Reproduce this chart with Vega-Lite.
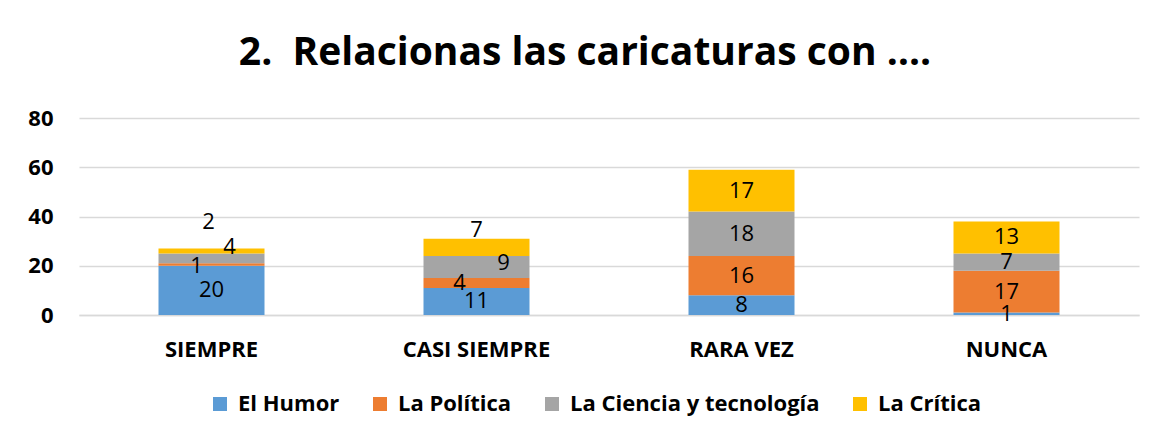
{
  "$schema": "https://vega.github.io/schema/vega-lite/v6.json",
  "width": 1060,
  "height": 197,
  "autosize": {"type": "none"},
  "padding": {"left": 79, "top": 118, "right": 28, "bottom": 127},
  "background": "white",
  "title": {
    "text": "2.\u00a0 Relacionas las caricaturas con ….",
    "font": "Open Sans",
    "fontSize": 39,
    "fontWeight": "bold",
    "color": "#000000",
    "anchor": "middle",
    "frame": "group",
    "baseline": "alphabetic",
    "dx": -24,
    "offset": 3
  },
  "data": {
    "values": [
      {"cat": "SIEMPRE", "series": "El Humor", "k": 1, "value": 20},
      {"cat": "SIEMPRE", "series": "La Política", "k": 2, "value": 1},
      {"cat": "SIEMPRE", "series": "La Ciencia y tecnología", "k": 3, "value": 4},
      {"cat": "SIEMPRE", "series": "La Crítica", "k": 4, "value": 2},
      {"cat": "CASI SIEMPRE", "series": "El Humor", "k": 1, "value": 11},
      {"cat": "CASI SIEMPRE", "series": "La Política", "k": 2, "value": 4},
      {"cat": "CASI SIEMPRE", "series": "La Ciencia y tecnología", "k": 3, "value": 9},
      {"cat": "CASI SIEMPRE", "series": "La Crítica", "k": 4, "value": 7},
      {"cat": "RARA VEZ", "series": "El Humor", "k": 1, "value": 8},
      {"cat": "RARA VEZ", "series": "La Política", "k": 2, "value": 16},
      {"cat": "RARA VEZ", "series": "La Ciencia y tecnología", "k": 3, "value": 18},
      {"cat": "RARA VEZ", "series": "La Crítica", "k": 4, "value": 17},
      {"cat": "NUNCA", "series": "El Humor", "k": 1, "value": 1},
      {"cat": "NUNCA", "series": "La Política", "k": 2, "value": 17},
      {"cat": "NUNCA", "series": "La Ciencia y tecnología", "k": 3, "value": 7},
      {"cat": "NUNCA", "series": "La Crítica", "k": 4, "value": 13}
    ]
  },
  "transform": [
    {"stack": "value", "groupby": ["cat"], "sort": [{"field": "k", "order": "ascending"}], "as": ["y0", "y1"]},
    {"calculate": "(datum.y0 + datum.y1) / 2", "as": "mid"}
  ],
  "encoding": {
    "x": {
      "field": "cat",
      "type": "nominal",
      "sort": ["SIEMPRE", "CASI SIEMPRE", "RARA VEZ", "NUNCA"],
      "scale": {"paddingInner": 0.6, "paddingOuter": 0.3},
      "axis": {
        "title": null,
        "labelAngle": 0,
        "labelFont": "Open Sans",
        "labelFontSize": 22,
        "labelFontWeight": "bold",
        "labelColor": "#000000",
        "labelPadding": 24,
        "ticks": false,
        "domainColor": "#d9d9d9",
        "domainWidth": 1.5
      }
    }
  },
  "layer": [
    {
      "mark": {"type": "bar"},
      "encoding": {
        "y": {
          "field": "y0",
          "type": "quantitative",
          "scale": {"domain": [0, 80], "nice": false},
          "axis": {
            "title": null,
            "values": [0, 20, 40, 60, 80],
            "labelFont": "Open Sans",
            "labelFontSize": 22,
            "labelFontWeight": "bold",
            "labelColor": "#000000",
            "labelPadding": 26,
            "ticks": false,
            "domain": false,
            "gridColor": "#d9d9d9",
            "gridWidth": 1.5
          }
        },
        "y2": {"field": "y1"},
        "color": {
          "field": "series",
          "type": "nominal",
          "sort": ["El Humor", "La Política", "La Ciencia y tecnología", "La Crítica"],
          "scale": {
            "domain": ["El Humor", "La Política", "La Ciencia y tecnología", "La Crítica"],
            "range": ["#5b9bd5", "#ed7d31", "#a5a5a5", "#ffc000"]
          },
          "legend": {
            "title": null,
            "orient": "none",
            "direction": "horizontal",
            "legendX": 130,
            "legendY": 275,
            "symbolType": "square",
            "symbolSize": 196,
            "symbolStrokeWidth": 0,
            "labelFont": "Open Sans",
            "labelFontSize": 22,
            "labelFontWeight": "bold",
            "labelColor": "#000000",
            "labelLimit": 500,
            "labelOffset": 7,
            "columnPadding": 29
          }
        }
      }
    },
    {
      "transform": [{"filter": "!((datum.cat == 'SIEMPRE' || datum.cat == 'CASI SIEMPRE') && datum.k >= 2)"}],
      "mark": {"type": "text", "font": "Open Sans", "fontSize": 22, "color": "#000000", "baseline": "middle"},
      "encoding": {"y": {"field": "mid", "type": "quantitative"}, "text": {"field": "value", "type": "quantitative"}}
    },
    {
      "transform": [{"filter": "datum.cat == 'SIEMPRE' && datum.k == 2"}],
      "mark": {"type": "text", "font": "Open Sans", "fontSize": 22, "color": "#000000", "baseline": "middle", "dx": -15, "dy": 1},
      "encoding": {"y": {"field": "mid", "type": "quantitative"}, "text": {"field": "value", "type": "quantitative"}}
    },
    {
      "transform": [{"filter": "datum.cat == 'SIEMPRE' && datum.k == 3"}],
      "mark": {"type": "text", "font": "Open Sans", "fontSize": 22, "color": "#000000", "baseline": "middle", "dx": 18, "dy": -11},
      "encoding": {"y": {"field": "mid", "type": "quantitative"}, "text": {"field": "value", "type": "quantitative"}}
    },
    {
      "transform": [{"filter": "datum.cat == 'SIEMPRE' && datum.k == 4"}],
      "mark": {"type": "text", "font": "Open Sans", "fontSize": 22, "color": "#000000", "baseline": "middle", "dx": -3, "dy": -29},
      "encoding": {"y": {"field": "mid", "type": "quantitative"}, "text": {"field": "value", "type": "quantitative"}}
    },
    {
      "transform": [{"filter": "datum.cat == 'CASI SIEMPRE' && datum.k == 2"}],
      "mark": {"type": "text", "font": "Open Sans", "fontSize": 22, "color": "#000000", "baseline": "middle", "dx": -17, "dy": 0},
      "encoding": {"y": {"field": "mid", "type": "quantitative"}, "text": {"field": "value", "type": "quantitative"}}
    },
    {
      "transform": [{"filter": "datum.cat == 'CASI SIEMPRE' && datum.k == 3"}],
      "mark": {"type": "text", "font": "Open Sans", "fontSize": 22, "color": "#000000", "baseline": "middle", "dx": 27, "dy": -4},
      "encoding": {"y": {"field": "mid", "type": "quantitative"}, "text": {"field": "value", "type": "quantitative"}}
    },
    {
      "transform": [{"filter": "datum.cat == 'CASI SIEMPRE' && datum.k == 4"}],
      "mark": {"type": "text", "font": "Open Sans", "fontSize": 22, "color": "#000000", "baseline": "middle", "dx": 0, "dy": -17},
      "encoding": {"y": {"field": "mid", "type": "quantitative"}, "text": {"field": "value", "type": "quantitative"}}
    }
  ],
  "config": {"view": {"stroke": null}}
}
